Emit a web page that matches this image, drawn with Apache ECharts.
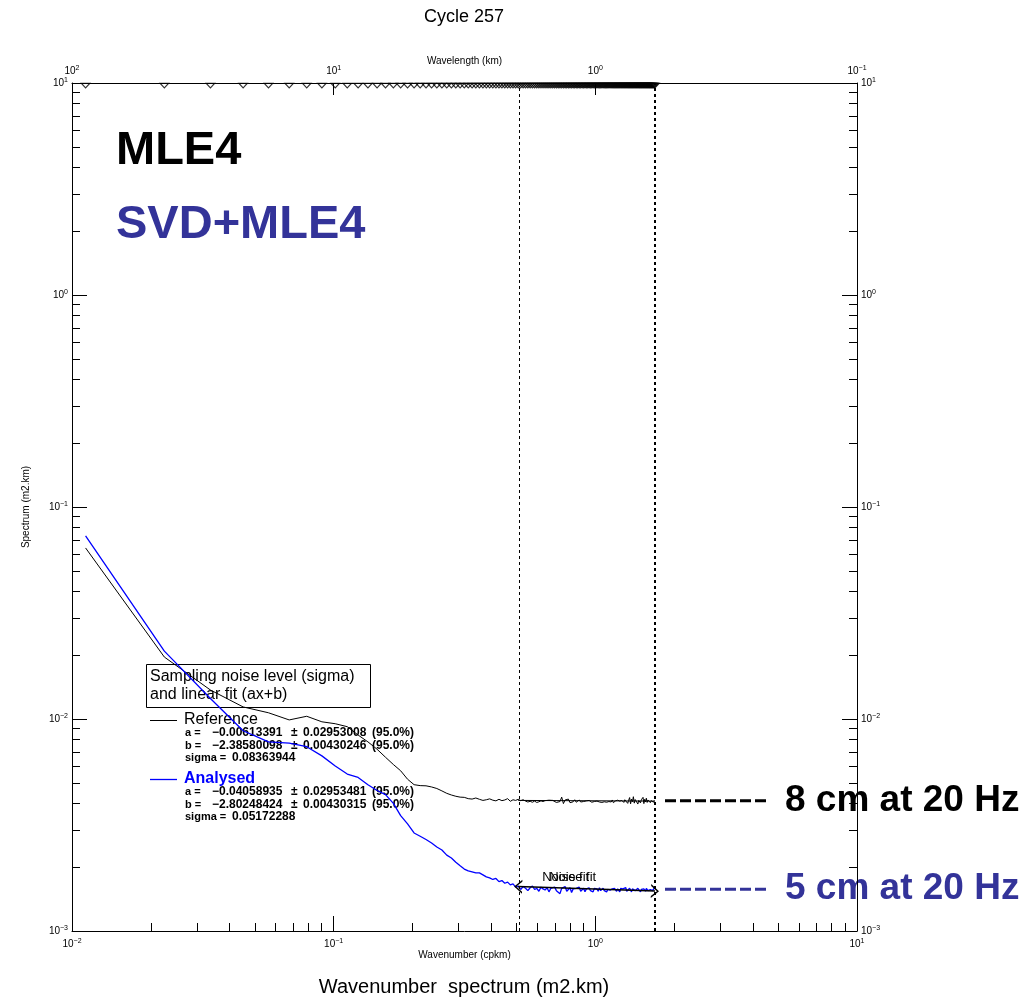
<!DOCTYPE html>
<html><head><meta charset="utf-8">
<script src="https://cdn.jsdelivr.net/npm/echarts@6/dist/echarts.min.js"></script>
<style>html,body{margin:0;padding:0;background:#fff}#c{width:1035px;height:1001px}</style>
</head><body><div id="c"></div>
<script>
// ---------------- data ----------------
const wavenumber = [
0.01127,0.02254,0.03381,0.04508,0.05635,0.06762,0.07889,0.09016,0.1014,0.1127,
0.1240,0.1352,0.1465,0.1578,0.1691,0.1803,0.1916,0.2029,0.2141,0.2254,
0.2367,0.2479,0.2592,0.2705,0.2818,0.2930,0.3043,0.3156,0.3268,0.3381,
0.3494,0.3606,0.3719,0.3832,0.3945,0.4057,0.4170,0.4283,0.4395,0.4508,
0.4621,0.4733,0.4846,0.4959,0.5072,0.5184,0.5297,0.5410,0.5522,0.5635,
0.5748,0.5860,0.5973,0.6086,0.6199,0.6311,0.6424,0.6537,0.6649,0.6762,
0.6875,0.6987,0.7100,0.7213,0.7326,0.7438,0.7551,0.7664,0.7776,0.7889,
0.8002,0.8114,0.8227,0.8340,0.8453,0.8565,0.8678,0.8791,0.8903,0.9016,
0.9129,0.9241,0.9354,0.9467,0.9580,0.9692,0.9805,0.9918,1.0030,1.0143,
1.0256,1.0368,1.0481,1.0594,1.0707,1.0819,1.0932,1.1045,1.1157,1.1270,
1.1383,1.1495,1.1608,1.1721,1.1834,1.1946,1.2059,1.2172,1.2284,1.2397,
1.2510,1.2622,1.2735,1.2848,1.2961,1.3073,1.3186,1.3299,1.3411,1.3524,
1.3637,1.3749,1.3862,1.3975,1.4088,1.4200,1.4313,1.4426,1.4538,1.4651,
1.4764,1.4876,1.4989,1.5102,1.5215,1.5327,1.5440,1.5553,1.5665,1.5778,
1.5891,1.6003,1.6116,1.6229,1.6342,1.6454,1.6567,1.6680,1.6792,1.6905];

const referenceSpectrum = [
0.0641,0.0196,0.0137,0.0114,0.0107,0.0099,0.0103,0.0097,0.0095,0.0092,
0.0084,0.0078,0.0072,0.0066,0.0061,0.0057,0.0052,0.0049,0.00485,0.00484,
0.00478,0.00470,0.00458,0.00446,0.00438,0.00432,0.00428,0.00427,0.00421,0.00419,
0.00424,0.00418,0.00413,0.00416,0.00420,0.00414,0.00411,0.00418,0.00412,0.00415,
0.00421,0.00409,0.00416,0.00413,0.00418,0.00412,0.00416,0.00410,0.00406,0.00409,
0.00405,0.00410,0.00404,0.00407,0.00411,0.00408,0.00412,0.00406,0.00414,0.00409,
0.00413,0.00420,0.00404,0.00412,0.00408,0.00428,0.00399,0.00415,0.00410,0.00419,
0.00403,0.00411,0.00407,0.00416,0.00405,0.00410,0.00415,0.00406,0.00412,0.00408,
0.00404,0.00411,0.00407,0.00413,0.00409,0.00405,0.00412,0.00408,0.00403,0.00410,
0.00414,0.00406,0.00409,0.00404,0.00411,0.00407,0.00413,0.00405,0.00410,0.00408,
0.00412,0.00406,0.00415,0.00403,0.00409,0.00411,0.00405,0.00414,0.00408,0.00410,
0.00406,0.00413,0.00409,0.00404,0.00416,0.00408,0.00422,0.00400,0.00414,0.00426,
0.00398,0.00419,0.00407,0.00430,0.00401,0.00417,0.00409,0.00424,0.00397,0.00413,
0.00421,0.00402,0.00416,0.00410,0.00427,0.00399,0.00418,0.00406,0.00423,0.00404,
0.00415,0.00409,0.00419,0.00403,0.00412,0.00408,0.00416,0.00405,0.00413,0.00410];

const analysedSpectrum = [
0.0730,0.0209,0.0125,0.0088,0.0078,0.0077,0.0074,0.0067,0.0060,0.0055,
0.0053,0.0049,0.0046,0.0044,0.0040,0.0035,0.0032,0.0029,0.0028,0.0027,
0.00260,0.00249,0.00241,0.00228,0.00221,0.00211,0.00203,0.00196,0.00192,0.00190,
0.00188,0.00188,0.00184,0.00180,0.00178,0.00175,0.00177,0.00171,0.00173,0.00168,
0.00170,0.00165,0.00167,0.00161,0.00163,0.00157,0.00162,0.00159,0.00155,0.00160,
0.00163,0.00157,0.00159,0.00154,0.00161,0.00158,0.00156,0.00160,0.00153,0.00159,
0.00157,0.00161,0.00155,0.00158,0.00150,0.00159,0.00156,0.00162,0.00154,0.00157,
0.00160,0.00152,0.00158,0.00155,0.00159,0.00156,0.00161,0.00154,0.00157,0.00159,
0.00153,0.00158,0.00156,0.00160,0.00155,0.00157,0.00153,0.00159,0.00156,0.00158,
0.00154,0.00160,0.00155,0.00157,0.00159,0.00155,0.00158,0.00153,0.00157,0.00160,
0.00156,0.00154,0.00158,0.00155,0.00159,0.00157,0.00154,0.00158,0.00156,0.00153,
0.00159,0.00156,0.00158,0.00155,0.00157,0.00160,0.00154,0.00157,0.00155,0.00159,
0.00156,0.00153,0.00158,0.00156,0.00160,0.00155,0.00157,0.00154,0.00159,0.00156,
0.00158,0.00153,0.00157,0.00160,0.00155,0.00158,0.00156,0.00154,0.00159,0.00157,
0.00155,0.00158,0.00153,0.00157,0.00156,0.00159,0.00155,0.00158,0.00156,0.00162];

const noiseFitRange = [0.5072, 1.6905];
const referenceFitA = -0.00613391, referenceFitB = -2.38580098;
const analysedFitA = -0.04058935, analysedFitB = -2.80248424;
const referenceStats = ['\u22120.00613391', '0.02953008', '\u22122.38580098', '0.00430246', '0.08363944'];
const analysedStats  = ['\u22120.04058935', '0.02953481', '\u22122.80248424', '0.00430315', '0.05172288'];
const wavenumberRange = [0.01, 10];
const wavelengthRange = [0.1, 100];
const spectrumRange = [0.001, 10];

// ---------------- chart ----------------
const FONT = '"Liberation Sans", Arial, Helvetica, sans-serif';
const BLUE = '#0000ff';
const SLATE = '#333399';
function pow10Label(v) {
  const e = Math.round(Math.log10(v));
  return '{b|10}{e|' + (e < 0 ? '\u2212' + (-e) : String(e)) + '}';
}
const rich = {
  b: { fontSize: 10, fontFamily: FONT, color: '#000' },
  e: { fontSize: 7, fontFamily: FONT, color: '#000', padding: [0, 0, 6, 0] }
};
const axisCommon = {
  type: 'log', logBase: 10,
  axisLine: { show: true, lineStyle: { color: '#000', width: 1 } },
  axisTick: { show: true, inside: true, length: 15, lineStyle: { color: '#000', width: 1 } },
  minorTick: { show: true, splitNumber: 9, length: 8, lineStyle: { color: '#000', width: 1 } },
  splitLine: { show: false }, minorSplitLine: { show: false },
  axisLabel: { formatter: pow10Label, rich: rich, margin: 6 },
  nameMoveOverlap: false,
  nameTextStyle: { fontSize: 10, fontFamily: FONT, color: '#000' }
};
function fitValue(a, b, k) { return Math.pow(10, a * Math.log10(k) + b); }
const chevron = 'path://M0,10 L5,0 L10,10 L8.6,10 L5,2.6 L1.4,10 Z';

const chart = echarts.init(document.getElementById('c'), null, { renderer: 'canvas' });
const option = {
  animation: false,
  backgroundColor: '#fff',
  grid: { left: 72, right: 178, top: 83, bottom: 70, containLabel: false },
  xAxis: [
    Object.assign({}, axisCommon, {
      min: wavenumberRange[0], max: wavenumberRange[1], position: 'bottom',
      name: 'Wavenumber (cpkm)', nameLocation: 'middle', nameGap: 19,
      axisLabel: { formatter: pow10Label, rich: rich, margin: 7 }
    }),
    Object.assign({}, axisCommon, {
      min: wavelengthRange[0], max: wavelengthRange[1], position: 'top', inverse: true,
      name: 'Wavelength (km)', nameLocation: 'middle', nameGap: 17,
      nameTextStyle: { fontSize: 10, fontFamily: FONT, color: '#000' },
      axisTick: { show: true, inside: true, length: 12, lineStyle: { color: '#000' } },
      minorTick: { show: false },
      axisLabel: { formatter: pow10Label, rich: rich, margin: 5 }
    })
  ],
  yAxis: [
    Object.assign({}, axisCommon, {
      min: spectrumRange[0], max: spectrumRange[1], position: 'left',
      name: 'Spectrum (m2.km)', nameLocation: 'middle', nameGap: 41,
      axisLabel: { formatter: pow10Label, rich: rich, margin: 4 }
    }),
    Object.assign({}, axisCommon, {
      min: spectrumRange[0], max: spectrumRange[1], position: 'right',
      axisLabel: { formatter: pow10Label, rich: rich, margin: 4 }
    })
  ],
  series: [
    {
      name: 'Reference', type: 'line', xAxisIndex: 0, yAxisIndex: 0,
      data: wavenumber.map((k, i) => [k, referenceSpectrum[i]]),
      symbol: 'none', lineStyle: { color: '#000', width: 1 }, z: 3, silent: true,
      markLine: {
        silent: true, symbol: ['none', 'none'], label: { show: false },
        data: [
          { xAxis: noiseFitRange[0], lineStyle: { color: '#000', width: 1, type: [3, 3] } },
          { xAxis: noiseFitRange[1], lineStyle: { color: '#000', width: 2, type: [3, 3] } }
        ]
      }
    },
    {
      name: 'Noise fit', type: 'line', xAxisIndex: 0, yAxisIndex: 0,
      data: noiseFitRange.map(k => [k, fitValue(referenceFitA, referenceFitB, k)]),
      symbol: 'none', lineStyle: { color: '#000', width: 1 }, z: 2, silent: true
    },
    {
      name: 'Analysed fit', type: 'line', xAxisIndex: 0, yAxisIndex: 0,
      data: [],
      z: 5, silent: true,
      markLine: {
        silent: true, symbol: [chevron, chevron], symbolSize: [14, 8],
        label: { show: false },
        lineStyle: { color: '#000', width: 1.5, type: 'solid' },
        data: [[
          { coord: [noiseFitRange[0], fitValue(analysedFitA, analysedFitB, noiseFitRange[0])] },
          { coord: [noiseFitRange[1], fitValue(analysedFitA, analysedFitB, noiseFitRange[1])] }
        ]]
      }
    },
    {
      name: 'Analysed', type: 'line', xAxisIndex: 0, yAxisIndex: 0,
      data: wavenumber.map((k, i) => [k, analysedSpectrum[i]]),
      symbol: 'none', lineStyle: { color: BLUE, width: 1.3 }, z: 4, silent: true
    },
    {
      name: 'Wavelength markers', type: 'scatter', xAxisIndex: 0, yAxisIndex: 0,
      data: wavenumber.map(k => [k, spectrumRange[1]]),
      symbol: 'path://M0,0 L10,0 L5,6 Z', symbolSize: [9, 5], symbolOffset: [0, 2.5],
      itemStyle: { color: 'rgba(0,0,0,0)', borderColor: '#000', borderWidth: 1 },
      clip: false, silent: true, z: 6
    }
  ]
};
chart.setOption(option);

// annotations anchored to the axis scales
const yRef = chart.convertToPixel({ yAxisIndex: 0 }, Math.pow(10, referenceFitB));
const yAna = chart.convertToPixel({ yAxisIndex: 0 }, Math.pow(10, analysedFitB));
const xFit0 = chart.convertToPixel({ xAxisIndex: 0 }, noiseFitRange[0]);
const txt = (x, y, s, size, opts) => Object.assign({
  type: 'text', x: x, y: y, silent: true,
  style: Object.assign({ text: s, fontSize: size, fontFamily: FONT, fill: '#000', textVerticalAlign: 'middle', textAlign: 'left' }, opts || {})
});
const B = { fontWeight: 'bold' };
const statLines = (y0, st) => [
  txt(185, y0, 'a =', 11, B), txt(212, y0, st[0], 12, B),
  txt(291, y0, '\u00b1', 12, B), txt(303, y0, st[1], 12, B),
  txt(372, y0, '(95.0%)', 12, B),
  txt(185, y0 + 13, 'b =', 11, B), txt(212, y0 + 13, st[2], 12, B),
  txt(291, y0 + 13, '\u00b1', 12, B), txt(303, y0 + 13, st[3], 12, B),
  txt(372, y0 + 13, '(95.0%)', 12, B),
  txt(185, y0 + 25, 'sigma =', 11, B), txt(232, y0 + 25, st[4], 12, B)
];
const graphic = [
  txt(464, 17, 'Cycle 257', 18, { textAlign: 'center' }),
  txt(464, 987, 'Wavenumber  spectrum (m2.km)', 20, { textAlign: 'center' }),
  txt(116, 151, 'MLE4', 47, B),
  txt(116, 225, 'SVD+MLE4', 47, { fontWeight: 'bold', fill: SLATE }),
  { type: 'rect', silent: true, shape: { x: 146.5, y: 664.5, width: 224, height: 43 }, style: { fill: null, stroke: '#000', lineWidth: 1 } },
  txt(150, 677, 'Sampling noise level (sigma)', 16),
  txt(150, 695, 'and linear fit (ax+b)', 16),
  { type: 'line', silent: true, shape: { x1: 150, y1: 720.5, x2: 177, y2: 720.5 }, style: { stroke: '#000', lineWidth: 1 } },
  txt(184, 720, 'Reference', 16),
  { type: 'line', silent: true, shape: { x1: 150, y1: 779.5, x2: 177, y2: 779.5 }, style: { stroke: BLUE, lineWidth: 1.3 } },
  txt(184, 779, 'Analysed', 16, { fill: BLUE, fontWeight: 'bold' }),
  txt(xFit0 + 24, yAna - 12, 'Noise fit', 13),
  txt(xFit0 + 31, yAna - 12, 'Noise fit', 13),
  { type: 'line', silent: true, shape: { x1: 665, y1: yRef, x2: 768, y2: yRef }, style: { stroke: '#000', lineWidth: 3, lineDash: [11, 4] } },
  txt(785, yRef, '8 cm at 20 Hz', 37, B),
  { type: 'line', silent: true, shape: { x1: 665, y1: yAna, x2: 768, y2: yAna }, style: { stroke: SLATE, lineWidth: 3, lineDash: [11, 4] } },
  txt(785, yAna, '5 cm at 20 Hz', 37, { fontWeight: 'bold', fill: SLATE })
].concat(statLines(733, referenceStats), statLines(792, analysedStats));
chart.setOption({ graphic: graphic });
</script>
</body></html>
